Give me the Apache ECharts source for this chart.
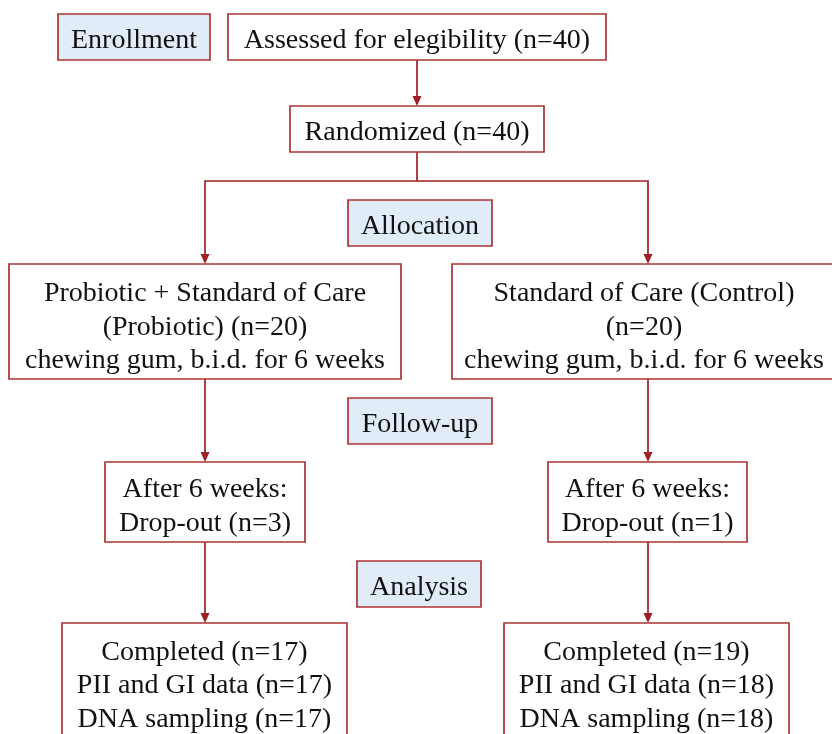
<!DOCTYPE html>
<html>
<head>
<meta charset="utf-8">
<script src="https://cdn.jsdelivr.net/npm/echarts@6/dist/echarts.min.js"></script>
<style>
html,body{margin:0;padding:0;background:#fff;}
#main{width:832px;height:734px;}
</style>
</head>
<body>
<div id="main"></div>
<script>
// ---- content (texts) ----
const stageLabels = ['Enrollment', 'Allocation', 'Follow-up', 'Analysis'];
const assessedText = ['Assessed for elegibility (n=40)'];
const randomizedText = ['Randomized (n=40)'];
const armTexts = [
  ['Probiotic + Standard of Care', '(Probiotic) (n=20)', 'chewing gum, b.i.d. for 6 weeks'],
  ['Standard of Care (Control)', '(n=20)', 'chewing gum, b.i.d. for 6 weeks']
];
const dropoutTexts = [
  ['After 6 weeks:', 'Drop-out (n=3)'],
  ['After 6 weeks:', 'Drop-out (n=1)']
];
const completedTexts = [
  ['Completed (n=17)', 'PII and GI data (n=17)', 'DNA sampling (n=17)'],
  ['Completed (n=19)', 'PII and GI data (n=18)', 'DNA sampling (n=18)']
];

// ---- layout (diagram units on hidden 832 x 734 axes) ----
const stageBoxes = [[58, 14, 210, 60], [348, 200, 492, 246], [348, 398, 492, 444], [357, 561, 481, 607]];
const assessedBox = [228, 14, 606, 60];
const randomizedBox = [290, 106, 544, 152];
const armBoxes = [[9, 264, 401, 379], [452, 264, 836, 379]];
const dropoutBoxes = [[105, 462, 305, 542], [548, 462, 747, 542]];
const completedBoxes = [[62, 623, 347, 760], [504, 623, 789, 760]];
const completedTextCenter = 684;

const arrows = [
  [[417, 60], [417, 106]],
  [[417, 152], [417, 181], [205, 181], [205, 264]],
  [[417, 181], [648, 181], [648, 264]],
  [[205, 379], [205, 462]],
  [[648, 379], [648, 462]],
  [[205, 542], [205, 623]],
  [[648, 542], [648, 623]]
];

// ---- styles ----
const BORDER = '#ad3333';
const ARROW = '#a01f26';
const STAGE_FILL = '#e0ecf8';
const FONT_FAMILY = '"Liberation Serif", "Times New Roman", serif';
const FONT_SIZE = 28;
const LINE_H = 33.5;

// Build box data
const boxes = [];
stageBoxes.forEach((b, i) => boxes.push({ b, lines: [stageLabels[i]], fill: STAGE_FILL, dy: 1.5 }));
boxes.push({ b: assessedBox, lines: assessedText, fill: '#fff', dy: 1.5 });
boxes.push({ b: randomizedBox, lines: randomizedText, fill: '#fff', dy: 1.5 });
armBoxes.forEach((b, i) => boxes.push({ b, lines: armTexts[i], fill: '#fff', dy: 4 }));
dropoutBoxes.forEach((b, i) => boxes.push({ b, lines: dropoutTexts[i], fill: '#fff', dy: 2.5 }));
completedBoxes.forEach((b, i) => boxes.push({ b, lines: completedTexts[i], fill: '#fff', cy: completedTextCenter }));

const boxData = boxes.map((o, i) => [o.b[0], o.b[1], o.b[2], o.b[3], i]);
const arrowData = arrows.map((a, i) => [a[0][0], a[0][1], i]);

const chart = echarts.init(document.getElementById('main'), null, { renderer: 'canvas' });

chart.setOption({
  backgroundColor: '#ffffff',
  animation: false,
  grid: { left: 0, right: 0, top: 0, bottom: 0 },
  xAxis: { type: 'value', min: 0, max: 832, show: false },
  yAxis: { type: 'value', min: 0, max: 734, inverse: true, show: false },
  series: [
    {
      type: 'custom',
      coordinateSystem: 'cartesian2d',
      clip: false,
      data: arrowData,
      renderItem: function (params, api) {
        const pts = arrows[api.value(2)].map(p => api.coord(p));
        const end = pts[pts.length - 1];
        const children = [{
          type: 'polyline',
          shape: { points: pts.slice(0, -1).concat([[end[0], end[1] - 8]]) },
          style: { stroke: ARROW, lineWidth: 1.7, fill: null }
        }];
        children.push({
          type: 'polygon',
          shape: { points: [[end[0] - 4.5, end[1] - 10], [end[0] + 4.5, end[1] - 10], [end[0], end[1]]] },
          style: { fill: ARROW }
        });
        return { type: 'group', children };
      }
    },
    {
      type: 'custom',
      coordinateSystem: 'cartesian2d',
      clip: false,
      data: boxData,
      renderItem: function (params, api) {
        const o = boxes[api.value(4)];
        const p1 = api.coord([api.value(0), api.value(1)]);
        const p2 = api.coord([api.value(2), api.value(3)]);
        const cx = (p1[0] + p2[0]) / 2;
        let cy = (p1[1] + p2[1]) / 2 + (o.dy || 0);
        if (o.cy !== undefined) cy = api.coord([0, o.cy])[1];
        return {
          type: 'group',
          children: [
            {
              type: 'rect',
              shape: { x: p1[0], y: p1[1], width: p2[0] - p1[0], height: p2[1] - p1[1] },
              style: { fill: o.fill, stroke: BORDER, lineWidth: 1.7 }
            },
            {
              type: 'text',
              style: {
                text: o.lines.join('\n'),
                x: cx, y: cy + 2,
                align: 'center', verticalAlign: 'middle',
                fontFamily: FONT_FAMILY, fontSize: FONT_SIZE, lineHeight: LINE_H,
                fill: '#111'
              }
            }
          ]
        };
      }
    }
  ]
});
</script>
</body>
</html>
